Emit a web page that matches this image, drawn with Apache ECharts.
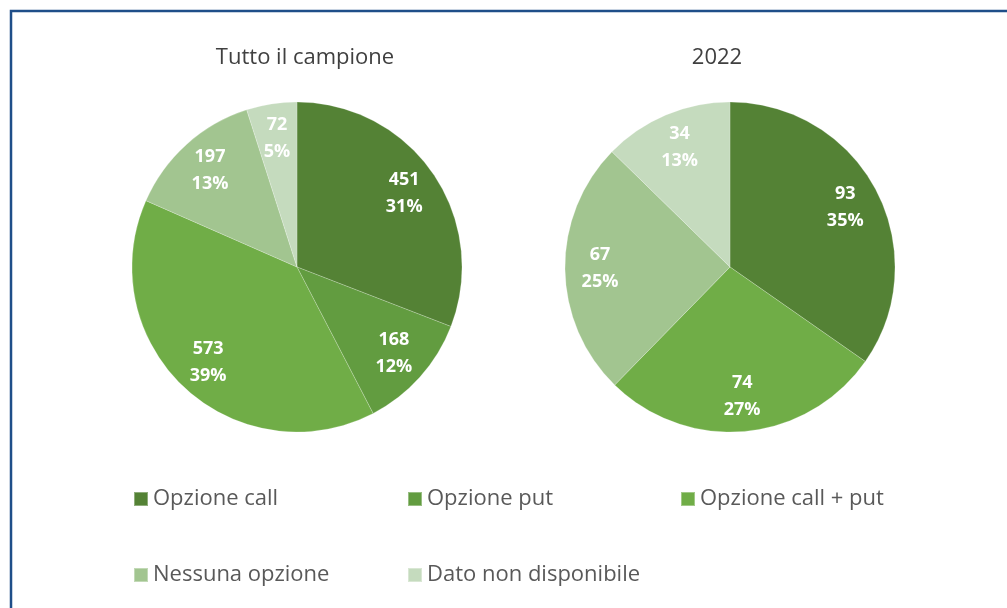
<!DOCTYPE html>
<html>
<head>
<meta charset="utf-8">
<script src="https://cdn.jsdelivr.net/npm/echarts@6/dist/echarts.min.js"></script>
<style>
  html, body { margin: 0; padding: 0; background: #fff; }
  #chart { width: 1007px; height: 608px; }
</style>
</head>
<body>
<div id="chart"></div>
<script>
// categorie e valori
const categories = ['Opzione call', 'Opzione put', 'Opzione call + put', 'Nessuna opzione', 'Dato non disponibile'];
const valuesAll = [451, 168, 573, 197, 72];
const values2022 = [93, 0, 74, 67, 34];
const pieTitles = ['Tutto il campione', '2022'];

const colors = ['#548235', '#629c40', '#70ad47', '#a2c590', '#c5dbbe'];
const FONT = '"Open Sans", sans-serif';

// dati per una torta (le fette a zero non si disegnano)
function pieData(values) {
  return categories
    .map((name, i) => ({ name: name, value: values[i], itemStyle: { color: colors[i] } }))
    .filter(d => d.value > 0);
}

// torta vera + anello trasparente che porta le etichette più verso il bordo
function makePie(values, cx) {
  const base = {
    type: 'pie',
    center: [cx, 267],
    startAngle: 90,
    clockwise: true,
    percentPrecision: 0,
    animation: false,
    data: pieData(values)
  };
  return [
    Object.assign({}, base, {
      radius: [0, 165],
      label: { show: false },
      labelLine: { show: false },
      itemStyle: { borderColor: 'rgba(255,255,255,0.35)', borderWidth: 0.6 },
      emphasis: { disabled: true }
    }),
    Object.assign({}, base, {
      radius: [90, 164],
      silent: true,
      itemStyle: { color: 'rgba(0,0,0,0)' },
      data: pieData(values).map(d => ({ name: d.name, value: d.value, itemStyle: { color: 'rgba(0,0,0,0)' } })),
      label: {
        show: true,
        position: 'inside',
        formatter: '{c}\n{d}%',
        color: '#fff',
        fontFamily: FONT,
        fontWeight: 'bold',
        fontSize: 18,
        lineHeight: 27
      },
      labelLine: { show: false },
      emphasis: { disabled: true }
    })
  ];
}

const legendCommon = {
  orient: 'vertical',
  icon: 'rect',
  itemWidth: 14,
  itemHeight: 14,
  itemGap: 54,
  selectedMode: false,
  textStyle: { fontFamily: FONT, fontSize: 22, color: '#595959', padding: [0, 0, 0, 0] }
};

const option = {
  backgroundColor: '#fff',
  title: [
    { text: pieTitles[0], left: 300, top: 42, textAlign: 'center',
      textStyle: { fontFamily: FONT, fontSize: 22, fontWeight: 'normal', color: '#404040' } },
    { text: pieTitles[1], left: 712, top: 42, textAlign: 'center',
      textStyle: { fontFamily: FONT, fontSize: 22, fontWeight: 'normal', color: '#404040' } }
  ],
  legend: [
    Object.assign({}, legendCommon, { left: 128, top: 483, data: [categories[0], categories[3]] }),
    Object.assign({}, legendCommon, { left: 402, top: 483, data: [categories[1], categories[4]] }),
    Object.assign({}, legendCommon, { left: 675, top: 483, data: [categories[2]] })
  ],
  graphic: [
    {
      type: 'rect',
      shape: { x: 11, y: 11, width: 1100, height: 700 },
      style: { fill: 'none', stroke: '#1f4e89', lineWidth: 2.5 },
      silent: true
    }
  ],
  series: [].concat(makePie(valuesAll, 297), makePie(values2022, 730))
};

const chart = echarts.init(document.getElementById('chart'));
chart.setOption(option);
</script>
</body>
</html>
